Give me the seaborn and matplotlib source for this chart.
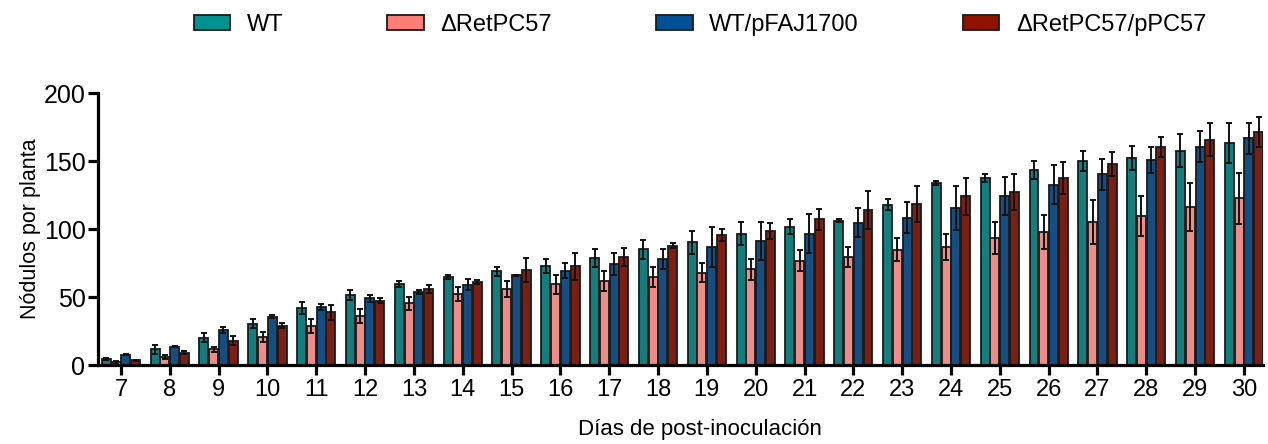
import matplotlib
matplotlib.use('Agg')
import matplotlib.pyplot as plt
import matplotlib.patches as mpatches
import seaborn as sns
import pandas as pd
import numpy as np

# ── DATA ─────────────────────────────────────────────────────
days = list(range(7, 31))
strains = ["WT", "ΔRetPC57", "WT/pFAJ1700", "ΔRetPC57/pPC57"]

wt = [4.5, 11.4, 20.2, 30.5, 41.8, 51.8, 59.4, 65.0, 68.8, 72.7, 78.6, 85.0,
      90.1, 96.5, 101.6, 106.0, 117.7, 133.6, 137.5, 143.4, 149.8, 152.5, 157.6, 163.0]
wt_err = [1.0, 3.0, 3.0, 3.0, 4.6, 3.7, 2.0, 1.5, 3.0, 5.0, 6.6, 7.0,
          8.3, 8.3, 5.4, 1.0, 4.0, 1.5, 3.2, 6.8, 7.3, 8.8, 12.2, 14.7]
dret = [2.0, 6.0, 11.4, 20.4, 28.6, 36.1, 45.4, 52.3, 56.0, 59.5, 62.0, 64.9,
        67.8, 70.5, 76.7, 79.5, 84.9, 86.8, 93.4, 97.6, 105.2, 109.6, 116.0, 122.6]
dret_err = [1.0, 1.5, 1.5, 3.7, 5.3, 5.4, 4.9, 4.9, 6.0, 7.0, 7.3, 7.3,
            7.0, 7.8, 7.6, 7.1, 8.3, 9.3, 11.5, 12.4, 16.0, 14.4, 17.6, 18.9]
wtp = [7.5, 13.6, 25.8, 35.4, 42.5, 49.1, 53.7, 59.0, 65.9, 69.3, 74.0, 78.1,
       86.9, 91.1, 96.5, 104.7, 108.4, 115.5, 124.0, 132.6, 140.2, 150.5, 160.5, 166.7]
wtp_err = [0.5, 0.3, 2.5, 1.0, 2.4, 2.7, 1.7, 4.0, 0.5, 5.4, 8.0, 7.4,
           14.5, 13.7, 14.2, 10.5, 11.3, 16.0, 14.0, 14.4, 11.3, 9.5, 11.5, 11.5]
dretp = [3.5, 9.0, 18.0, 29.0, 38.8, 47.4, 55.7, 61.0, 69.8, 72.5, 79.6, 87.7,
         95.3, 98.5, 107.0, 114.0, 118.7, 124.0, 127.2, 137.3, 147.8, 160.3, 165.8, 171.3]
dretp_err = [0.5, 1.0, 3.0, 1.8, 5.6, 1.5, 2.9, 1.5, 8.6, 10.0, 6.6, 2.0,
             4.4, 5.6, 7.6, 13.7, 13.2, 13.7, 13.0, 11.7, 9.0, 7.6, 12.2, 10.8]

colors = ["#009191", "#FF7D77", "#005096", "#8E1200"]

means = [wt, dret, wtp, dretp]
errs = [wt_err, dret_err, wtp_err, dretp_err]

rows = []
for s, m, e in zip(strains, means, errs):
    for d, v, ev in zip(days, m, e):
        rows.append({"Día": d, "Cepa": s, "Nódulos": v, "SEM": ev})
df = pd.DataFrame(rows)

# ── STYLE ────────────────────────────────────────────────────
sns.set_theme(style="ticks")
plt.rcParams.update({
    'font.family': ['Liberation Sans', 'DejaVu Sans'],
    'text.color': 'black',
    'axes.labelcolor': 'black',
    'xtick.color': 'black',
    'ytick.color': 'black',
})

fig = plt.figure(figsize=(12.68, 4.44), dpi=100)
ax = fig.add_axes([98 / 1268, 79 / 444, (1263 - 98) / 1268, (365 - 93) / 444])

sns.barplot(data=df, x="Día", y="Nódulos", hue="Cepa", hue_order=strains,
            palette=colors, errorbar=None, width=0.8, gap=0.08,
            edgecolor="#1a1a1a", linewidth=1.3, legend=False, ax=ax)

# error bars on top of every bar, from the bar geometry seaborn made
for cont, s in zip(ax.containers, strains):
    sub = df[df["Cepa"] == s]
    xs = [p.get_x() + p.get_width() / 2 for p in cont.patches]
    hs = [p.get_height() for p in cont.patches]
    ax.errorbar(xs, hs, yerr=sub["SEM"].values, fmt="none", ecolor="#111111",
                elinewidth=1.4, capsize=2.0, capthick=1.4, zorder=5)

ax.set_ylim(0, 200)
ax.set_yticks([0, 50, 100, 150, 200])
ax.set_xlim(-0.47, len(days) - 1 + 0.39)
sns.despine(ax=ax)
for sp in ["left", "bottom"]:
    ax.spines[sp].set_linewidth(2.3)
    ax.spines[sp].set_color("black")
ax.tick_params(axis="both", width=2.3, length=7, color="black", labelcolor="black")
ax.tick_params(axis="y", labelsize=18, pad=2)
ax.tick_params(axis="x", labelsize=17, pad=3)

ax.set_xlabel("Días de post-inoculación", fontsize=16, color="black")
ax.xaxis.set_label_coords((700 - 98) / (1263 - 98), -0.20)
ax.set_ylabel("Nódulos por planta", fontsize=15.5, labelpad=2, color="black")

handles = [mpatches.Patch(facecolor=c, edgecolor="#1a1a1a", linewidth=1.3, label=s)
           for c, s in zip(colors, strains)]
leg = fig.legend(handles=handles, loc="center", bbox_to_anchor=(700 / 1268, 1 - 25 / 444),
                 ncol=4, frameon=False, fontsize=17, handlelength=1.55, handleheight=0.62,
                 handletextpad=0.7, columnspacing=4.4)
for t in leg.get_texts():
    t.set_color("black")

fig.savefig("out.png", dpi=100, facecolor="white")
plt.close(fig)
